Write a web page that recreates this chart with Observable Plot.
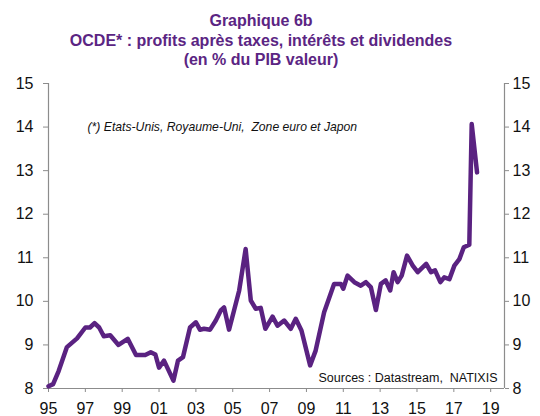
<!DOCTYPE html>
<html>
<head>
<meta charset="utf-8">
<script src="https://cdn.jsdelivr.net/npm/d3@7"></script>
<script src="https://cdn.jsdelivr.net/npm/@observablehq/plot@0.6"></script>
<style>
  html, body { margin: 0; padding: 0; background: #fff; }
  #title {
    width: 522px; height: 57px; padding: 11px 0 0 0;
    text-align: center; color: #5B2583;
    font-family: "Liberation Sans", Arial, sans-serif; font-weight: bold;
    font-size: 16px; line-height: 19.5px;
  }
  #chart svg { display: block; }
</style>
</head>
<body>
<div id="title">Graphique 6b<br>OCDE* : profits après taxes, intérêts et dividendes<br>(en % du PIB valeur)</div>
<div id="chart"></div>
<script>
// Date (decimal year) and value (% of GDP)
const years = [
  1995.0, 1995.25, 1995.55, 1996.0, 1996.55, 1997.0, 1997.25, 1997.5, 1997.75, 1998.0,
  1998.35, 1998.8, 1999.3, 1999.75, 2000.25, 2000.55, 2000.8, 2001.0, 2001.27, 2001.78,
  2002.03, 2002.3, 2002.68, 2003.0, 2003.22, 2003.44, 2003.77, 2004.08, 2004.35, 2004.53,
  2004.8, 2005.07, 2005.35, 2005.7, 2005.98, 2006.25, 2006.52, 2006.77, 2007.16, 2007.43,
  2007.79, 2008.15, 2008.42, 2008.73, 2009.2, 2009.5, 2009.96, 2010.5, 2010.87, 2011.0,
  2011.23, 2011.6, 2011.95, 2012.23, 2012.5, 2012.77, 2013.04, 2013.3, 2013.55, 2013.73,
  2013.95, 2014.17, 2014.46, 2014.77, 2015.04, 2015.5, 2015.76, 2015.98, 2016.27, 2016.48,
  2016.76, 2017.03, 2017.3, 2017.54, 2017.84, 2017.97, 2018.26
];
const profits = [
  8.05, 8.1, 8.4, 8.95, 9.15, 9.4, 9.4, 9.5, 9.4, 9.2,
  9.22, 9.0, 9.14, 8.77, 8.77, 8.83, 8.78, 8.48, 8.64, 8.18,
  8.64, 8.72, 9.4, 9.52, 9.35, 9.37, 9.35, 9.56, 9.79, 9.86,
  9.35, 9.79, 10.25, 11.2, 10.02, 9.83, 9.85, 9.37, 9.65, 9.44,
  9.56, 9.37, 9.6, 9.33, 8.53, 8.87, 9.75, 10.4, 10.4, 10.29,
  10.59, 10.44, 10.36, 10.44, 10.32, 9.8, 10.4, 10.48, 10.25, 10.67,
  10.44, 10.59, 11.05, 10.82, 10.67, 10.86, 10.67, 10.71, 10.44, 10.55,
  10.51, 10.82, 10.97, 11.24, 11.3, 14.07, 12.96
];
const xDomain = [1995, 2019.75];
const yDomain = [8, 15];
const xTicks = [1995, 1997, 1999, 2001, 2003, 2005, 2007, 2009, 2011, 2013, 2015, 2017, 2019];
const yTicks = [8, 9, 10, 11, 12, 13, 14, 15];
const note = "(*) Etats-Unis, Royaume-Uni,\u00a0 Zone euro et Japon";
const source = "Sources : Datastream,\u00a0 NATIXIS";

const axisColor = "#8c8c8c";
const lineColor = "#5A2281";
const yFormat = d => String(d);

const chart = Plot.plot({
  width: 540,
  height: 348,
  marginTop: 15,
  marginBottom: 28,
  marginLeft: 48,
  marginRight: 36,
  style: { fontFamily: "'Liberation Sans', Arial, sans-serif", fontSize: "16px", color: "#111", background: "#fff" },
  x: { domain: xDomain },
  y: { domain: yDomain },
  marks: [
    Plot.ruleY([yDomain[0]], { stroke: axisColor, strokeWidth: 1.2 }),
    Plot.ruleX(xDomain, { stroke: axisColor, strokeWidth: 1.2 }),
    Plot.axisY({ anchor: "left", ticks: yTicks, tickFormat: yFormat, tickSize: 5, tickPadding: 10, label: null, stroke: axisColor, fill: "#111", fontSize: 16 }),
    Plot.axisY({ anchor: "right", ticks: yTicks, tickFormat: yFormat, tickSize: 4, tickPadding: 4, label: null, stroke: axisColor, fill: "#111", fontSize: 16 }),
    Plot.axisX({ ticks: xTicks, tickSize: 4, tickPadding: 10, label: null, stroke: axisColor, fill: "#111", fontSize: 16,
      tickFormat: d => String(d % 100).padStart(2, "0") }),
    Plot.lineY(profits, { x: years, y: profits, stroke: lineColor, strokeWidth: 4.5, strokeLinejoin: "round", strokeLinecap: "round" }),
    Plot.text([note], { frameAnchor: "top-left", dx: 39, dy: 44, textAnchor: "start", lineAnchor: "middle", fontStyle: "italic", fontSize: 12.2, fill: "#111" }),
    Plot.text([source], { frameAnchor: "bottom-right", dx: -7, dy: -11, textAnchor: "end", lineAnchor: "middle", fontSize: 12.5, fill: "#111" })
  ]
});
document.getElementById("chart").appendChild(chart);
</script>
</body>
</html>
